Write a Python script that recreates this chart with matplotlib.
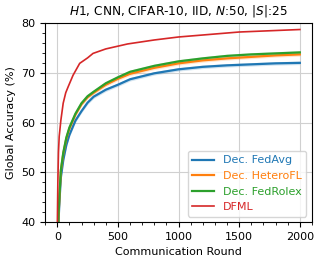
import matplotlib
matplotlib.use("Agg")
import matplotlib.pyplot as plt
from matplotlib.ticker import AutoMinorLocator

rounds_base = [1, 10, 20, 30, 50, 75, 100, 150, 200, 250, 300, 400, 500, 600, 800, 1000, 1200, 1400, 1600, 1800, 2000]
fedavg    = [25, 40.0, 45.0, 49.0, 52.5, 55.5, 57.5, 60.4, 62.3, 64.0, 65.2, 66.6, 67.6, 68.7, 69.9, 70.7, 71.2, 71.5, 71.7, 71.9, 72.0]
heterofl  = [25, 41.0, 46.0, 50.3, 53.8, 56.8, 58.8, 61.6, 63.7, 65.1, 66.0, 67.6, 68.8, 69.8, 71.0, 71.9, 72.5, 72.9, 73.2, 73.5, 73.7]
fedrolex  = [25, 41.2, 46.2, 50.5, 54.0, 57.0, 59.0, 61.8, 63.9, 65.3, 66.2, 67.9, 69.1, 70.2, 71.4, 72.3, 72.9, 73.4, 73.7, 73.9, 74.1]

rounds_dfml = [1, 5, 10, 16, 30, 49, 70, 90, 130, 185, 250, 295, 400, 580, 800, 1000, 1200, 1500, 1800, 2000]
dfml        = [40, 48, 54, 57.2, 60.5, 63.9, 66.0, 67.2, 69.5, 71.9, 73.0, 73.9, 74.8, 75.8, 76.6, 77.2, 77.6, 78.2, 78.5, 78.7]

labels = ["Dec. FedAvg", "Dec. HeteroFL", "Dec. FedRolex", "DFML"]
colors = ["#1f77b4", "#ff7f0e", "#2ca02c", "#d62728"]

fig = plt.figure(figsize=(3.27, 2.65), dpi=100)
ax = fig.add_axes([0.138, 0.162, 0.816, 0.751])

for vals, lab, c in zip([fedavg, heterofl, fedrolex], labels[:3], colors[:3]):
    ax.fill_between(rounds_base, [v - 0.35 for v in vals], [v + 0.35 for v in vals], color=c, alpha=0.2, lw=0)
    ax.plot(rounds_base, vals, color=c, lw=1.6, label=lab)
ax.plot(rounds_dfml, dfml, color=colors[3], lw=1.2, label=labels[3])

ax.set_xlim(-100, 2100)
ax.set_ylim(40, 80)
ax.set_xticks([0, 500, 1000, 1500, 2000])
ax.set_yticks([40, 50, 60, 70, 80])
ax.xaxis.set_minor_locator(AutoMinorLocator(5))
ax.yaxis.set_minor_locator(AutoMinorLocator(5))
ax.tick_params(labelsize=8)
ax.grid(True, which="major", color="#d0d0d0", lw=0.8)
ax.set_axisbelow(True)
ax.set_xlabel("Communication Round", fontsize=8)
ax.set_ylabel("Global Accuracy (%)", fontsize=8)
ax.set_title(r"$H$1, CNN, CIFAR-10, IID, $N$:50, $|S|$:25", fontsize=8.7)

leg = ax.legend(loc="lower right", fontsize=8)
for txt, c in zip(leg.get_texts(), colors):
    txt.set_color(c)

fig.savefig("out.png", dpi=100)
